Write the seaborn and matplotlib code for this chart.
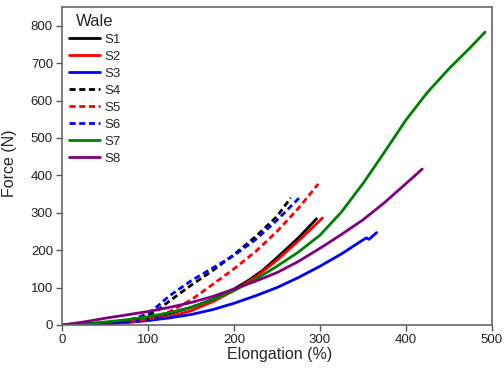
import matplotlib
matplotlib.use("Agg")
import matplotlib.pyplot as plt
import seaborn as sns
import pandas as pd

series_names = ["S1", "S2", "S3", "S4", "S5", "S6", "S7", "S8"]

s1_x = [0, 25, 50, 75, 100, 125, 150, 175, 200, 218, 234, 250, 275, 296]
s1_y = [0, 2, 5, 10, 18, 30, 47, 68, 96, 121, 147, 180, 233, 284]
s2_x = [0, 25, 50, 75, 100, 125, 150, 175, 200, 225, 250, 275, 303]
s2_y = [0, 1, 3, 7, 12, 22, 38, 62, 92, 128, 173, 225, 286]
s3_x = [0, 25, 50, 75, 100, 125, 150, 175, 200, 225, 250, 275, 300, 325, 345, 354, 357, 366]
s3_y = [0, 1, 3, 7, 12, 19, 28, 41, 58, 78, 100, 127, 157, 190, 220, 233, 229, 247]
s4_x = [0, 25, 50, 75, 100, 110, 125, 150, 175, 200, 225, 250, 266]
s4_y = [0, 1, 4, 10, 24, 38, 64, 106, 145, 188, 236, 290, 340]
s5_x = [0, 25, 50, 75, 100, 125, 150, 175, 200, 225, 250, 275, 298]
s5_y = [0, 1, 3, 8, 15, 35, 67, 108, 150, 196, 250, 312, 377]
s6_x = [0, 25, 50, 75, 100, 110, 125, 150, 175, 200, 225, 250, 276]
s6_y = [0, 1, 4, 10, 30, 48, 78, 118, 152, 186, 228, 280, 340]
s7_x = [0, 25, 50, 75, 100, 125, 150, 175, 200, 225, 250, 275, 300, 325, 350,
        375, 400, 425, 450, 475, 492]
s7_y = [0, 3, 8, 14, 22, 33, 47, 67, 92, 122, 157, 195, 240, 302, 378,
        462, 548, 622, 685, 742, 783]
s8_x = [0, 25, 50, 75, 100, 125, 150, 175, 200, 225, 250, 275, 300, 325, 350, 375, 400, 419]
s8_y = [0, 8, 18, 27, 36, 47, 60, 76, 96, 117, 140, 170, 205, 242, 281, 327, 378, 417]

xs = [s1_x, s2_x, s3_x, s4_x, s5_x, s6_x, s7_x, s8_x]
ys = [s1_y, s2_y, s3_y, s4_y, s5_y, s6_y, s7_y, s8_y]

rows = []
for name, xv, yv in zip(series_names, xs, ys):
    for a, b in zip(xv, yv):
        rows.append({"Wale": name, "x": a, "y": b})
df = pd.DataFrame(rows)

colors = {"S1": "black", "S2": "#ff0000", "S3": "#0000ff", "S4": "black",
          "S5": "#ff0000", "S6": "#0000ff", "S7": "#008000", "S8": "#800080"}
dashed = {"S1": False, "S2": False, "S3": False, "S4": True, "S5": True,
          "S6": True, "S7": False, "S8": False}

sns.set_style("white")
plt.rcParams["font.family"] = ["Liberation Sans", "DejaVu Sans"]

fig = plt.figure(figsize=(5.04, 3.71), dpi=100)
ax = fig.add_axes([0.123, 0.124, 0.853, 0.857])

for name in series_names:
    sub = df[df["Wale"] == name]
    sns.lineplot(data=sub, x="x", y="y", color=colors[name], sort=False,
                 estimator=None, linewidth=2.0, ax=ax, label=name,
                 linestyle=(0, (2.2, 1.3)) if dashed[name] else "-")

ax.set_xlim(0, 500)
ax.set_ylim(0, 850)
ax.set_xticks([0, 100, 200, 300, 400, 500])
ax.set_yticks([0, 100, 200, 300, 400, 500, 600, 700, 800])
ax.set_xlabel("Elongation (%)", fontsize=11.5)
ax.set_ylabel("Force (N)", fontsize=11.5)
ax.xaxis.set_label_coords(0.507, -0.07)
ax.yaxis.set_label_coords(-0.104, 0.51)
ax.tick_params(axis="both", labelsize=9.5, direction="out", length=4,
               width=1, color="#555555", labelcolor="#222222",
               bottom=True, left=True, pad=2.5)
for sp in ax.spines.values():
    sp.set_color("#666666")
    sp.set_linewidth(1.2)

leg = ax.legend(title="Wale", loc="upper left", frameon=False, fontsize=9.5,
                title_fontsize=12, handlelength=2.4, handletextpad=0.3,
                labelspacing=0.36, borderaxespad=0.3, borderpad=0.2,
                alignment="center")

fig.savefig("out.png", dpi=100)
